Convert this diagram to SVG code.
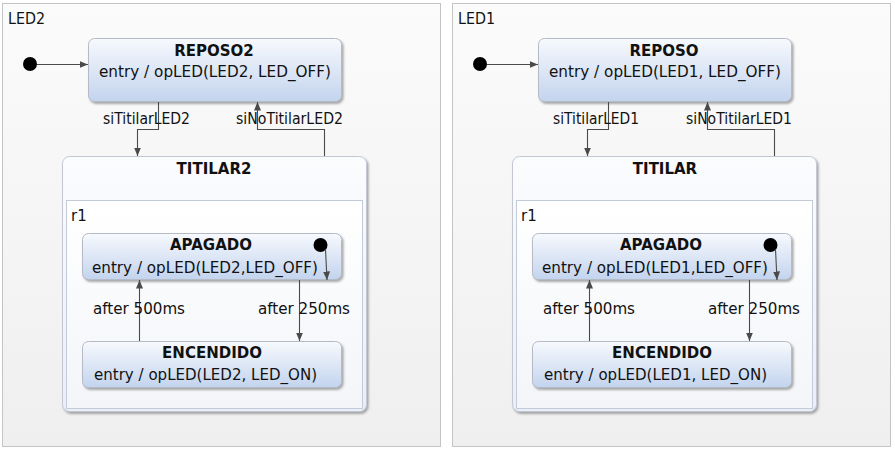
<svg xmlns="http://www.w3.org/2000/svg" width="895" height="452" viewBox="0 0 895 452">
<style>
text{font-family:"DejaVu Sans","Verdana",sans-serif;font-size:15px;fill:#111;}
.t{font-weight:bold;text-anchor:middle;}
.lbl{font-size:15px;}
.panel{fill:url(#gPanel);stroke:#c4c4c4;stroke-width:1;}
.node{fill:url(#gNode);stroke:#b4bac6;stroke-width:1;filter:url(#sh);}
.comp{fill:url(#gComp);stroke:#c2c7d2;stroke-width:1;filter:url(#sh);}
.region{fill:url(#gReg);stroke:#c3cad8;stroke-width:1;}
.edge{fill:none;stroke:#4a4a4a;stroke-width:1.1;marker-end:url(#arr);}
.init{fill:#000;}
</style>
<defs>
<linearGradient id="gPanel" x1="0" y1="0" x2="0" y2="1">
<stop offset="0" stop-color="#fbfbfb"/><stop offset="1" stop-color="#efefef"/>
</linearGradient>
<linearGradient id="gNode" x1="0" y1="0" x2="0" y2="1">
<stop offset="0" stop-color="#f7f9fd"/><stop offset="1" stop-color="#c3d4ee"/>
</linearGradient>
<linearGradient id="gComp" x1="0" y1="0" x2="0" y2="1">
<stop offset="0" stop-color="#fbfcfe"/><stop offset="1" stop-color="#e9eef8"/>
</linearGradient>
<linearGradient id="gReg" x1="0" y1="0" x2="0" y2="1">
<stop offset="0" stop-color="#ffffff"/><stop offset="1" stop-color="#f3f5f9"/>
</linearGradient>
<filter id="sh" x="-10%" y="-10%" width="120%" height="130%">
<feDropShadow dx="1.6" dy="2" stdDeviation="1.2" flood-color="#707070" flood-opacity="0.6"/>
</filter>
<marker id="arr" markerUnits="userSpaceOnUse" markerWidth="9" markerHeight="8" refX="8.5" refY="3.5" orient="auto">
<path d="M0,0 L8.5,3.5 L0,7 z" fill="#4a4a4a"/>
</marker>
</defs>

<!-- LED2 panel -->
<g id="LED2">
<rect class="panel" x="2.5" y="3.5" width="438" height="443"/>
<text x="8" y="24" textLength="37" lengthAdjust="spacingAndGlyphs">LED2</text>
</g>
<g id="REPOSO2">
<rect class="node" x="88.5" y="38.5" width="253" height="63" rx="6"/>
<text class="t" x="214" y="56">REPOSO2</text>
<text x="99" y="77" textLength="232" lengthAdjust="spacingAndGlyphs">entry / opLED(LED2, LED_OFF)</text>
</g>
<g id="init_LED2"><circle class="init" cx="30" cy="64" r="7"/></g>
<g id="TITILAR2">
<rect class="comp" x="62.5" y="156.5" width="304" height="255" rx="7"/>
<text class="t" x="214" y="174">TITILAR2</text>
<g id="r1_LED2">
<rect class="region" x="66.5" y="200.5" width="296" height="208"/>
<text x="71" y="221">r1</text>
</g>
</g>
<g id="APAGADO2">
<rect class="node" x="82.5" y="233.5" width="259" height="46" rx="6"/>
<text class="t" x="211" y="250">APAGADO</text>
<text x="92" y="273" textLength="226" lengthAdjust="spacingAndGlyphs">entry / opLED(LED2,LED_OFF)</text>
</g>
<g id="init_r1_LED2"><circle class="init" cx="320.5" cy="245" r="7"/></g>
<g id="ENCENDIDO2">
<rect class="node" x="82.5" y="341.5" width="259" height="46" rx="6"/>
<text class="t" x="212" y="358">ENCENDIDO</text>
<text x="94" y="380" textLength="223" lengthAdjust="spacingAndGlyphs">entry / opLED(LED2, LED_ON)</text>
</g>

<!-- LED1 panel -->
<g id="LED1">
<rect class="panel" x="452.5" y="3.5" width="438" height="443"/>
<text x="458" y="24" textLength="37" lengthAdjust="spacingAndGlyphs">LED1</text>
</g>
<g id="REPOSO">
<rect class="node" x="538.5" y="38.5" width="253" height="63" rx="6"/>
<text class="t" x="664" y="56">REPOSO</text>
<text x="549" y="77" textLength="232" lengthAdjust="spacingAndGlyphs">entry / opLED(LED1, LED_OFF)</text>
</g>
<g id="init_LED1"><circle class="init" cx="480" cy="64" r="7"/></g>
<g id="TITILAR">
<rect class="comp" x="512.5" y="156.5" width="304" height="255" rx="7"/>
<text class="t" x="665" y="174">TITILAR</text>
<g id="r1_LED1">
<rect class="region" x="516.5" y="200.5" width="296" height="208"/>
<text x="521" y="221">r1</text>
</g>
</g>
<g id="APAGADO1">
<rect class="node" x="532.5" y="233.5" width="259" height="46" rx="6"/>
<text class="t" x="661" y="250">APAGADO</text>
<text x="542" y="273" textLength="226" lengthAdjust="spacingAndGlyphs">entry / opLED(LED1,LED_OFF)</text>
</g>
<g id="init_r1_LED1"><circle class="init" cx="770.5" cy="245" r="7"/></g>
<g id="ENCENDIDO1">
<rect class="node" x="532.5" y="341.5" width="259" height="46" rx="6"/>
<text class="t" x="662" y="358">ENCENDIDO</text>
<text x="544" y="380" textLength="223" lengthAdjust="spacingAndGlyphs">entry / opLED(LED1, LED_ON)</text>
</g>

<g id="connectors">
<path class="edge" d="M37,64.5 H88"/>
<path class="edge" d="M158.5,102 V129.5 H137.5 V156"/>
<path class="edge" d="M324.5,156 V129.5 H257.5 V102"/>
<path class="edge" d="M325.5,249 L327,280"/>
<path class="edge" d="M139.5,341 V280"/>
<path class="edge" d="M299.5,280 V341"/>
<text class="lbl" x="103" y="124" textLength="87" lengthAdjust="spacingAndGlyphs">siTitilarLED2</text>
<text class="lbl" x="236" y="124" textLength="107" lengthAdjust="spacingAndGlyphs">siNoTitilarLED2</text>
<text class="lbl" x="93" y="314" textLength="92" lengthAdjust="spacingAndGlyphs">after 500ms</text>
<text class="lbl" x="258" y="314" textLength="92" lengthAdjust="spacingAndGlyphs">after 250ms</text>

<path class="edge" d="M487,64.5 H538"/>
<path class="edge" d="M608.5,102 V129.5 H587.5 V156"/>
<path class="edge" d="M774.5,156 V129.5 H707.5 V102"/>
<path class="edge" d="M775.5,249 L777,280"/>
<path class="edge" d="M589.5,341 V280"/>
<path class="edge" d="M749.5,280 V341"/>
<text class="lbl" x="553" y="124" textLength="86" lengthAdjust="spacingAndGlyphs">siTitilarLED1</text>
<text class="lbl" x="686" y="124" textLength="106" lengthAdjust="spacingAndGlyphs">siNoTitilarLED1</text>
<text class="lbl" x="543" y="314" textLength="92" lengthAdjust="spacingAndGlyphs">after 500ms</text>
<text class="lbl" x="708" y="314" textLength="92" lengthAdjust="spacingAndGlyphs">after 250ms</text>
</g>
</svg>
